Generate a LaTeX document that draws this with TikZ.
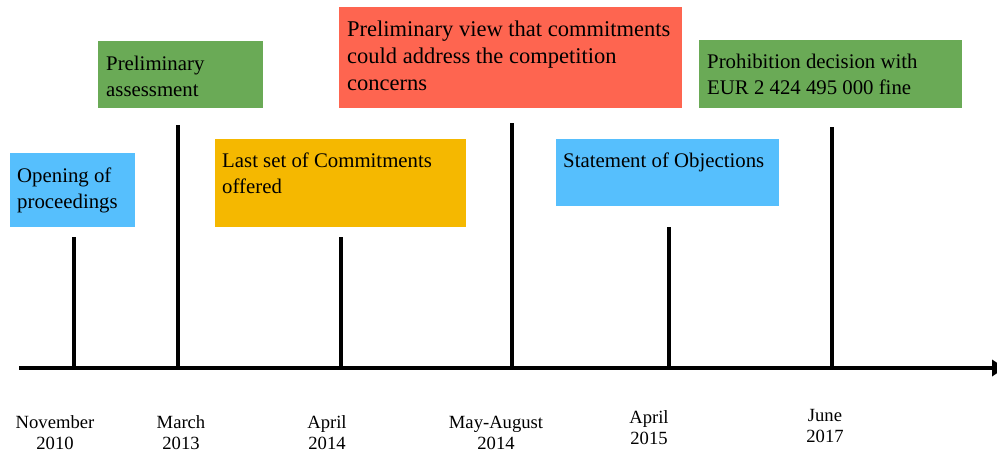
\documentclass[tikz,border=0pt]{standalone}
\usepackage{fontspec}
\setmainfont{Liberation Serif}
\usetikzlibrary{arrows.meta}
\usetikzlibrary{calc}

\definecolor{skyblue}{HTML}{56BFFD}
\definecolor{leafgreen}{HTML}{6AAA56}
\definecolor{amber}{HTML}{F5B800}
\definecolor{tomato}{HTML}{FE6550}

\begin{document}
\begin{tikzpicture}[x=0.03cm, y=-0.03cm, line cap=butt]
    % case timeline, 2010 -- 2017
    \def\u{0.03cm}
    \tikzset{
        card/.style={anchor=north west, inner sep=0, outer sep=0},
        cardtext/.style={anchor=north west, inner sep=0, align=left, font=\fontsize{17.75}{22.2}\selectfont},
        datetext/.style={anchor=north, inner sep=0, align=center, font=\fontsize{15.9}{17.9}\selectfont},
        tick/.style={line width=2.6pt},
    }
    \useasboundingbox (0,0) rectangle (997,452);

    \coordinate (A0) at (19, 368);
    \coordinate (A1) at (1005, 368);

    % ticks
    \foreach \x/\top [count=\i] in {74/237, 178/125, 341/237, 512/123, 669/227, 832/127}{
        \coordinate (T\i) at (\x, 368);
        \draw[tick] (T\i) -- (\x, \top);
    };
    \draw[line width=3pt, -{Triangle[length=11pt, width=13.7pt]}] (A0) -- (A1);

    % boxes
    \node[card, fill=skyblue, minimum width=125*\u, minimum height=74*\u] (open) at (10, 153) {};
    \node[cardtext] (opentext) at ($(open.north west)+(7, 14.5)$) {Opening of\\proceedings};

    \node[card, fill=leafgreen, minimum width=165*\u, minimum height=67*\u] (assess) at (98, 41) {};
    \node[cardtext] (assesstext) at ($(assess.north west)+(8, 14.5)$) {Preliminary\\assessment};

    \node[card, fill=amber, minimum width=251*\u, minimum height=88*\u] (offer) at (215, 139) {};
    \node[cardtext] (offertext) at ($(offer.north west)+(7, 14)$) {Last set of Commitments\\offered};

    \node[card, fill=tomato, minimum width=343*\u, minimum height=101*\u] (view) at (339, 7) {};
    \node[cardtext, font=\fontsize{19.2}{23.1}\selectfont] (viewtext) at ($(view.north west)+(8, 13.6)$)
        {Preliminary view that commitments\\could address the competition\\concerns};

    \node[card, fill=skyblue, minimum width=223*\u, minimum height=67*\u] (objection) at (556, 139) {};
    \node[cardtext] (objectiontext) at ($(objection.north west)+(7, 14)$) {Statement of Objections};

    \node[card, fill=leafgreen, minimum width=263*\u, minimum height=68*\u] (fine) at (699, 40) {};
    \node[cardtext] (finetext) at ($(fine.north west)+(8, 14)$) {Prohibition decision with\\EUR 2 424 495 000 fine};

    % dates
    \node[datetext] (d1) at (55, 415.5) {November\\2010};
    \node[datetext] (d2) at (181, 415.5) {March\\2013};
    \node[datetext] (d3) at (327, 415.5) {April\\2014};
    \node[datetext] (d4) at (496, 415.5) {May-August\\2014};
    \node[datetext] (d5) at (649, 410.5) {April\\2015};
    \node[datetext] (d6) at (825, 409.5) {June\\2017};
\end{tikzpicture}
\end{document}
